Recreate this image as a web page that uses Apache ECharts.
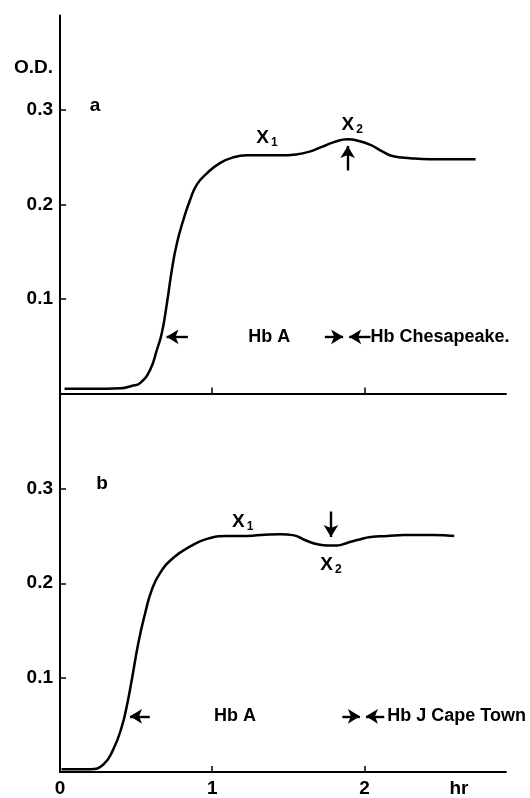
<!DOCTYPE html>
<html>
<head>
<meta charset="utf-8">
<script src="https://cdn.jsdelivr.net/npm/echarts@6/dist/echarts.min.js"></script>
<style>
  html, body { margin: 0; padding: 0; background: #fff; }
  #chart { width: 530px; height: 798px; }
</style>
</head>
<body>
<div id="chart"></div>
<script>
  var chart = echarts.init(document.getElementById('chart'));

  // panel a : Hb A + Hb Chesapeake
  var timeA = [0.03, 0.30, 0.40, 0.47, 0.526, 0.592, 0.636, 0.669, 0.702, 0.735, 0.768, 0.811, 0.855, 0.899, 0.965, 1.053, 1.14, 1.228, 1.35, 1.447, 1.55, 1.64, 1.72, 1.80, 1.89, 1.97, 2.04, 2.12, 2.19, 2.30, 2.43, 2.73];
  var odA = [0.005, 0.005, 0.0055, 0.008, 0.011, 0.025, 0.046, 0.064, 0.095, 0.131, 0.159, 0.184, 0.205, 0.221, 0.233, 0.244, 0.250, 0.252, 0.252, 0.252, 0.253, 0.256, 0.261, 0.266, 0.269, 0.267, 0.263, 0.256, 0.251, 0.249, 0.248, 0.248];

  // panel b : Hb A + Hb J Cape Town
  var timeB = [0.01, 0.197, 0.285, 0.35, 0.406, 0.439, 0.472, 0.515, 0.559, 0.603, 0.658, 0.745, 0.855, 0.965, 1.097, 1.184, 1.32, 1.45, 1.53, 1.62, 1.70, 1.76, 1.82, 1.89, 1.96, 2.04, 2.15, 2.26, 2.45, 2.59];
  var odB = [0.003, 0.003, 0.008, 0.024, 0.048, 0.070, 0.098, 0.137, 0.168, 0.193, 0.211, 0.227, 0.239, 0.247, 0.250, 0.250, 0.251, 0.252, 0.251, 0.245, 0.241, 0.240, 0.240, 0.243, 0.246, 0.249, 0.250, 0.251, 0.251, 0.250];

  var yTicks = [0.1, 0.2, 0.3];
  var xTicks = [1, 2];
  var xLabels = [0, 1, 2];

  // annotations: [hr, O.D., text, align]
  var notesA = [
    [0.23, 0.305, 'a', 'center'],
    [1.36, 0.271, 'X{s|1}', 'center'],
    [1.92, 0.284, 'X{s|2}', 'center'],
    [1.375, 0.060, '{b|Hb A}', 'center'],
    [2.04, 0.060, '{b|Hb Chesapeake.}', 'left']
  ];
  var notesB = [
    [0.276, 0.305, 'b', 'center'],
    [1.20, 0.265, 'X{s|1}', 'center'],
    [1.78, 0.220, 'X{s|2}', 'center'],
    [1.15, 0.059, '{b|Hb A}', 'center'],
    [2.15, 0.059, '{b|Hb J Cape Town}', 'left']
  ];
  // arrows: [fromX, fromY, toX, toY]
  var arrowsA = [
    [0.84, 0.060, 0.70, 0.060],
    [1.74, 0.060, 1.86, 0.060],
    [2.04, 0.060, 1.90, 0.060],
    [1.89, 0.236, 1.89, 0.262]
  ];
  var arrowsB = [
    [0.59, 0.059, 0.46, 0.059],
    [1.855, 0.059, 1.97, 0.059],
    [2.13, 0.059, 2.01, 0.059],
    [1.78, 0.276, 1.78, 0.249]
  ];

  var ink = '#000';
  var font = 'Liberation Sans';

  function yAxisOf(idx, withName) {
    return {
      type: 'value',
      gridIndex: idx,
      min: 0,
      max: 0.4,
      interval: 0.1,
      name: withName ? 'O.D.' : '',
      nameLocation: 'end',
      nameGap: -62,
      nameTextStyle: { color: ink, fontFamily: font, fontSize: 19, fontWeight: 'bold', align: 'right', padding: [0, 7, 0, 0] },
      axisLine: { show: true, lineStyle: { color: ink, width: 2 } },
      axisTick: { show: true, inside: true, length: 6, customValues: yTicks, lineStyle: { color: ink, width: 1.5 } },
      axisLabel: {
        customValues: yTicks, margin: 7, color: ink, fontFamily: font, fontSize: 19, fontWeight: 'bold',
        formatter: function (v) { return v.toFixed(1); }
      },
      splitLine: { show: false }
    };
  }

  function xAxisOf(idx, withLabels) {
    return {
      type: 'value',
      gridIndex: idx,
      min: 0,
      max: 2.93,
      name: withLabels ? 'hr' : '',
      nameLocation: 'end',
      nameGap: -47,
      nameTextStyle: { color: ink, fontFamily: font, fontSize: 19, fontWeight: 'bold', align: 'center', verticalAlign: 'top', padding: [7, 0, 0, 0] },
      axisLine: { show: true, onZero: false, lineStyle: { color: ink, width: 2 } },
      axisTick: { show: true, inside: true, length: 6, customValues: xTicks, lineStyle: { color: ink, width: 1.5 } },
      axisLabel: {
        show: withLabels, customValues: xLabels, margin: 7, color: ink, fontFamily: font, fontSize: 19, fontWeight: 'bold',
        formatter: function (v) { return String(v); }
      },
      splitLine: { show: false }
    };
  }

  function zip(xs, ys) {
    return xs.map(function (x, i) { return [x, ys[i]]; });
  }

  function noteSeries(idx, notes, arrows) {
    return {
      type: 'scatter',
      xAxisIndex: idx,
      yAxisIndex: idx,
      symbolSize: 0,
      silent: true,
      itemStyle: { opacity: 1 },
      data: notes.map(function (n) {
        return {
          value: [n[0], n[1]],
          label: { formatter: n[2], align: n[3] }
        };
      }),
      label: {
        show: true,
        position: 'inside',
        color: ink,
        fontFamily: font,
        fontSize: 19,
        fontWeight: 'bold',
        rich: {
          s: { fontFamily: font, fontSize: 12, color: ink, padding: [10, 0, 0, 2] },
          b: { fontFamily: font, fontSize: 18, fontWeight: 'bold', color: ink }
        }
      },
      markLine: {
        silent: true,
        symbol: ['none', 'arrow'],
        symbolSize: [11, 12],
        label: { show: false },
        lineStyle: { color: ink, width: 2.4, type: 'solid', opacity: 1 },
        data: arrows.map(function (a) {
          return [{ coord: [a[0], a[1]] }, { coord: [a[2], a[3]] }];
        })
      }
    };
  }

  function curveSeries(idx, xs, ys) {
    return {
      type: 'line',
      xAxisIndex: idx,
      yAxisIndex: idx,
      data: zip(xs, ys),
      smooth: 0.5,
      showSymbol: false,
      lineStyle: { color: ink, width: 2.5 }
    };
  }

  var option = {
    animation: false,
    backgroundColor: '#fff',
    grid: [
      { left: 60, right: 24, top: 15.5, height: 378 },
      { left: 60, right: 24, top: 394.5, height: 378 }
    ],
    xAxis: [xAxisOf(0, false), xAxisOf(1, true)],
    yAxis: [yAxisOf(0, true), yAxisOf(1, false)],
    series: [
      curveSeries(0, timeA, odA),
      curveSeries(1, timeB, odB),
      noteSeries(0, notesA, arrowsA),
      noteSeries(1, notesB, arrowsB)
    ]
  };

  chart.setOption(option);
  window.onresize = function () {
    chart.resize();
  };
</script>
</body>
</html>
